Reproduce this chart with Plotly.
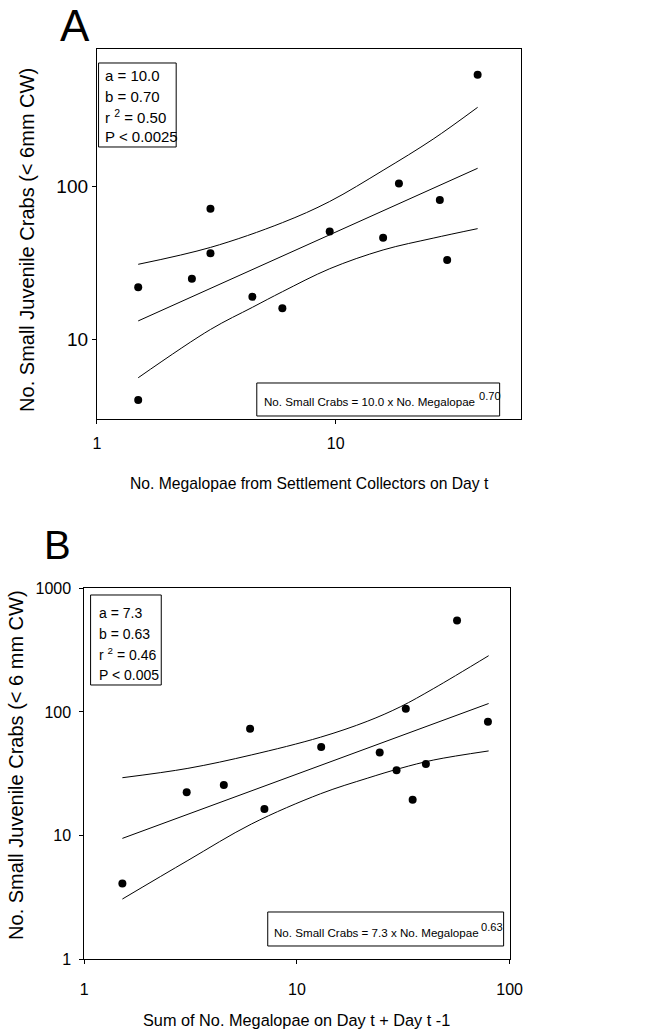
import plotly.graph_objects as go

# ---------------- Data ----------------
# Panel A
a_x = [1.49, 1.49, 2.50, 2.99, 2.99, 4.48, 5.98, 9.44, 15.8, 18.4, 27.3, 29.3, 39.3]
a_y = [21.9, 4.0, 24.9, 71.8, 36.6, 19.0, 16.0, 50.9, 46.2, 105, 81.8, 33.1, 542]
a_fit_x = [1.49, 39.3]
a_fit_y = [13.2, 132]
a_up_x = [1.49, 2.99, 5.98, 9.44, 15.8, 25.6, 39.3]
a_up_y = [31.0, 40.0, 58.1, 80.0, 128, 205, 331]
a_lo_x = [1.49, 2.99, 4.48, 5.98, 9.44, 15.8, 25.6, 39.3]
a_lo_y = [5.6, 11.6, 16.2, 20.5, 29.0, 38.5, 46.0, 53.1]

# Panel B
b_x = [1.51, 3.03, 4.53, 6.02, 7.03, 13.0, 24.5, 29.4, 32.5, 35.0, 40.4, 56.6, 79.1]
b_y = [4.1, 22.4, 25.7, 73.3, 16.4, 52.1, 46.9, 33.8, 106, 19.5, 38.0, 548, 83.5]
b_fit_x = [1.51, 79.7]
b_fit_y = [9.5, 117]
b_up_x = [1.51, 3.07, 6.1, 12.9, 21.4, 30.6, 44.0, 79.7]
b_up_y = [29.4, 35.0, 44.9, 62.5, 84, 110, 155, 285]
b_lo_x = [1.51, 3.07, 6.1, 12.9, 21.4, 30.6, 44.0, 79.7]
b_lo_y = [3.07, 6.3, 12.4, 21.8, 29.1, 35.0, 40.9, 48.4]

a_stats = ["a = 10.0", "b = 0.70", "r <sup>2</sup> = 0.50", "P < 0.0025"]
b_stats = ["a = 7.3", "b = 0.63", "r <sup>2</sup> = 0.46", "P < 0.005"]
a_eq = "No. Small Crabs = 10.0 x No. Megalopae"
a_eq_exp = "0.70"
b_eq = "No. Small Crabs = 7.3 x No. Megalopae"
b_eq_exp = "0.63"
a_xtitle = "No. Megalopae from Settlement Collectors on Day t"
b_xtitle = "Sum of No. Megalopae on Day t + Day t -1"
a_ytitle = "No. Small Juvenile Crabs (< 6mm CW)"
b_ytitle = "No. Small Juvenile Crabs (< 6 mm CW)"

# ---------------- Layout helpers ----------------
W, H = 648, 1036
# the photographed page shows the figure slightly inset/scaled; compensate
SX, OX = 0.9784, 2.0
SY, OY = 0.9836, 8.0
def px(x):
    return ((x - OX) / SX) / W
def py(y):
    return 1 - ((y - OY) / SY) / H

ARIAL = "Liberation Sans, Arial, sans-serif"

fig = go.Figure()

marker_style = dict(color="black", size=8)

for xs, ys, ax in [(a_x, a_y, ("x", "y")), (b_x, b_y, ("x2", "y2"))]:
    fig.add_trace(go.Scatter(x=xs, y=ys, mode="markers", marker=marker_style,
                             xaxis=ax[0], yaxis=ax[1], showlegend=False, hoverinfo="skip"))
for (xs, ys), ax in [((a_fit_x, a_fit_y), ("x", "y")), ((a_up_x, a_up_y), ("x", "y")),
                     ((a_lo_x, a_lo_y), ("x", "y")),
                     ((b_fit_x, b_fit_y), ("x2", "y2")), ((b_up_x, b_up_y), ("x2", "y2")),
                     ((b_lo_x, b_lo_y), ("x2", "y2"))]:
    fig.add_trace(go.Scatter(x=xs, y=ys, mode="lines",
                             line=dict(color="black", width=1, shape="spline", smoothing=1.0),
                             xaxis=ax[0], yaxis=ax[1], showlegend=False, hoverinfo="skip"))

axis_common = dict(type="log", showgrid=False, zeroline=False, showline=True,
                   linecolor="black", linewidth=1, mirror=True, ticks="outside",
                   ticklen=4, tickcolor="black", dtick=1,
                   tickfont=dict(family=ARIAL, size=16, color="black"))

fig.update_layout(
    width=W, height=H,
    margin=dict(l=0, r=0, t=0, b=0),
    paper_bgcolor="white", plot_bgcolor="white",
    xaxis=dict(axis_common, domain=[px(95.3), px(521.7)], range=[0, 1.777], anchor="y",
               ticklabelstandoff=6),
    yaxis=dict(axis_common, domain=[py(419.3), py(49.3)], range=[0.476, 2.90], anchor="x",
               tickfont=dict(family=ARIAL, size=19, color="black")),
    xaxis2=dict(axis_common, domain=[px(82.7), px(510)], range=[0, 2], anchor="y2",
                ticklabelstandoff=12),
    yaxis2=dict(axis_common, domain=[py(959.3), py(588.3)], range=[0, 3], anchor="x2",
                ticklabelstandoff=5),
)

ann = []
shapes = []
# Panel letters
ann.append(dict(text="A", x=px(73), y=py(26), xref="paper", yref="paper", showarrow=False,
                font=dict(family=ARIAL, size=44, color="black"), xanchor="center", yanchor="middle"))
ann.append(dict(text="B", x=px(56), y=py(545), xref="paper", yref="paper", showarrow=False,
                font=dict(family=ARIAL, size=40, color="black"), xanchor="center", yanchor="middle"))

# Axis titles
ann.append(dict(text=a_xtitle, x=px(309), y=py(484), xref="paper", yref="paper", showarrow=False,
                font=dict(family=ARIAL, size=15.7, color="black"), xanchor="center", yanchor="middle"))
ann.append(dict(text=b_xtitle, x=px(296), y=py(1020), xref="paper", yref="paper", showarrow=False,
                font=dict(family=ARIAL, size=16.3, color="black"), xanchor="center", yanchor="middle"))
ann.append(dict(text=a_ytitle, x=px(25), y=py(240), xref="paper", yref="paper", showarrow=False, textangle=-90,
                font=dict(family=ARIAL, size=20, color="black"), xanchor="center", yanchor="middle"))
ann.append(dict(text=b_ytitle, x=px(14), y=py(765), xref="paper", yref="paper", showarrow=False, textangle=-90,
                font=dict(family=ARIAL, size=20, color="black"), xanchor="center", yanchor="middle"))

# Stats boxes
def stats_box(lines, x0, x1, y0, y1, tx, ty, dy, size):
    shapes.append(dict(type="rect", xref="paper", yref="paper", x0=px(x0), x1=px(x1), y0=py(y1), y1=py(y0),
                       line=dict(color="black", width=1), fillcolor="white", layer="above"))
    for i, t in enumerate(lines):
        ann.append(dict(text=t, x=px(tx), y=py(ty + i * dy), xref="paper", yref="paper", showarrow=False,
                        font=dict(family=ARIAL, size=size, color="black"), xanchor="left", yanchor="middle"))

stats_box(a_stats, 97, 175, 63, 147, 101, 76, 20.3, 15)
stats_box(b_stats, 89, 160, 595, 685, 95, 613, 20.7, 14)

def eq_box(text, exp, x0, x1, y0, y1, tx, ty, ex, size):
    shapes.append(dict(type="rect", xref="paper", yref="paper", x0=px(x0), x1=px(x1), y0=py(y1), y1=py(y0),
                       line=dict(color="black", width=1), fillcolor="white", layer="above"))
    ann.append(dict(text=text, x=px(tx), y=py(ty), xref="paper", yref="paper", showarrow=False,
                    font=dict(family=ARIAL, size=size, color="black"), xanchor="left", yanchor="middle"))
    ann.append(dict(text=exp, x=px(ex), y=py(ty - 6), xref="paper", yref="paper", showarrow=False,
                    font=dict(family=ARIAL, size=size - 0.5, color="black"), xanchor="left", yanchor="middle"))

eq_box(a_eq, a_eq_exp, 256, 500, 383, 416, 261, 402, 477, 11.6)
eq_box(b_eq, b_eq_exp, 267, 504, 912, 946, 271, 933, 479, 11.6)

fig.update_layout(annotations=ann, shapes=shapes)
fig.write_html("out.html", config=dict(displayModeBar=False),
               post_script="document.body.style.margin='0px';document.body.style.overflow='hidden';")
